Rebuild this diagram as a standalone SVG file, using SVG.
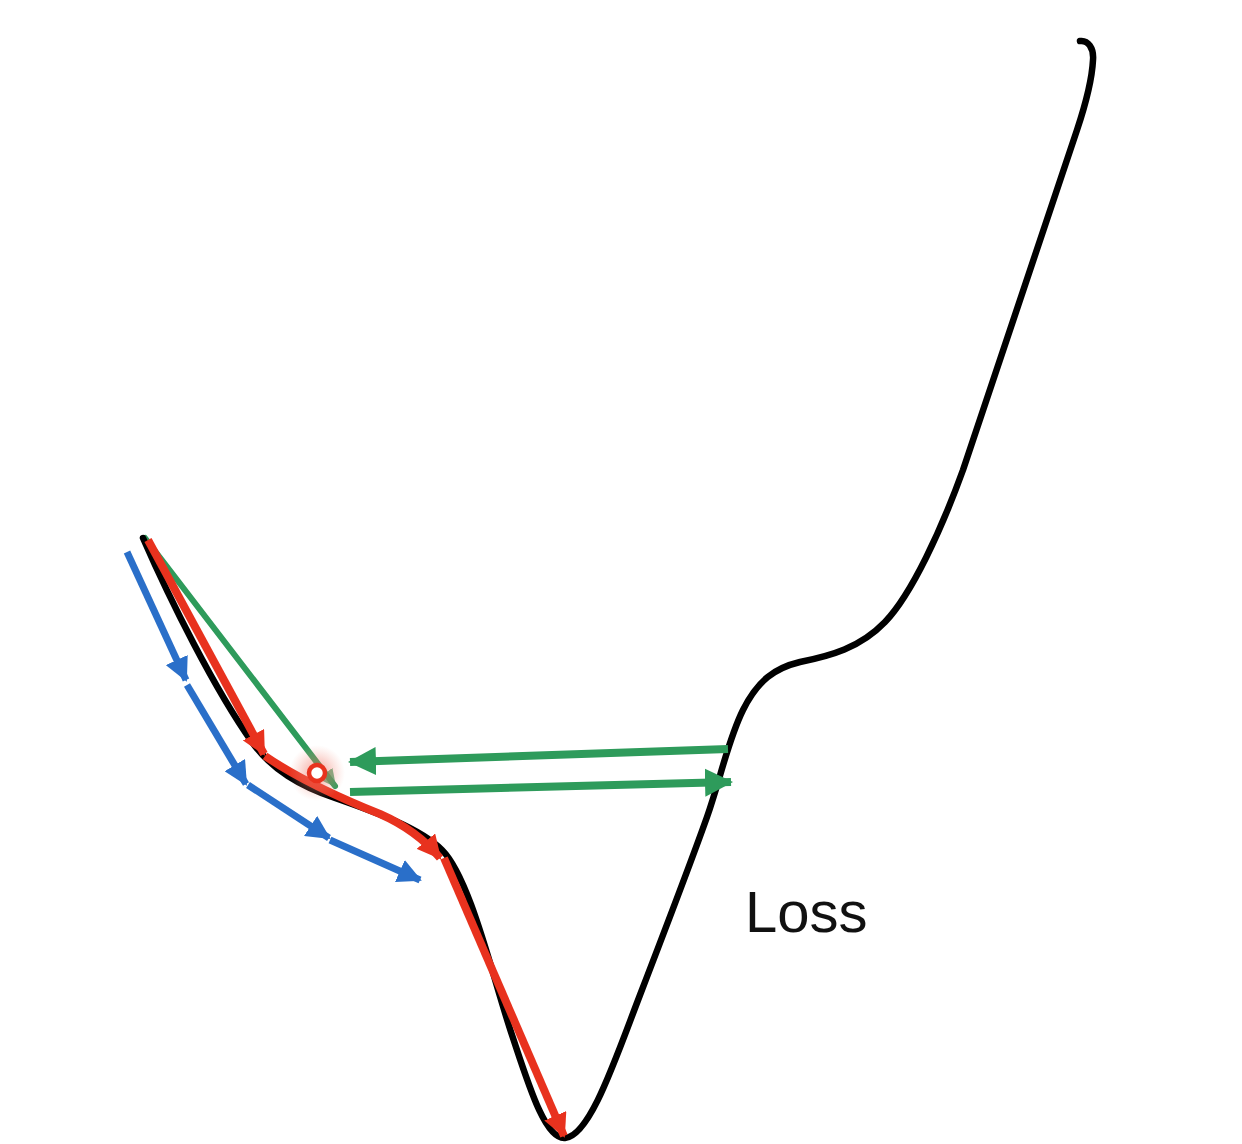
<svg xmlns="http://www.w3.org/2000/svg" width="1242" height="1144" viewBox="0 0 1242 1144">
  <style>
    .curve { fill: none; stroke: #000; stroke-width: 6.5; stroke-linecap: round; stroke-linejoin: round; }
    .red { fill: none; stroke: #e8321e; stroke-width: 8; stroke-linecap: butt; }
    .blue { fill: none; stroke: #2a6fc9; stroke-width: 7; stroke-linecap: butt; }
    .green { fill: none; stroke: #2e9b5b; stroke-width: 8; stroke-linecap: butt; }
    .greenthin { fill: none; stroke: #2e9b5b; stroke-width: 6; stroke-linecap: round; }
    .label { font-family: "Liberation Sans", Arial, sans-serif; font-size: 58px; fill: #111; }
  </style>
  <defs>
    <marker id="ahRed" markerUnits="userSpaceOnUse" markerWidth="26" markerHeight="24" refX="22" refY="12" orient="auto">
      <path d="M0,0 L24,12 L0,24 Z" fill="#e8321e"/>
    </marker>
    <marker id="ahBlue" markerUnits="userSpaceOnUse" markerWidth="26" markerHeight="24" refX="22" refY="12" orient="auto">
      <path d="M0,0 L24,12 L0,24 Z" fill="#2a6fc9"/>
    </marker>
    <marker id="ahGreen" markerUnits="userSpaceOnUse" markerWidth="30" markerHeight="30" refX="26" refY="15" orient="auto">
      <path d="M0,1 L28,15 L0,29 Z" fill="#2e9b5b"/>
    </marker>
    <marker id="ahGreenSmall" markerUnits="userSpaceOnUse" markerWidth="20" markerHeight="18" refX="16" refY="9" orient="auto">
      <path d="M0,0 L18,9 L0,18 Z" fill="#2e9b5b" fill-opacity="0.75"/>
    </marker>
    <radialGradient id="glow" cx="0.5" cy="0.5" r="0.5">
      <stop offset="0" stop-color="#f05a4a" stop-opacity="0.6"/>
      <stop offset="0.55" stop-color="#f08070" stop-opacity="0.3"/>
      <stop offset="1" stop-color="#f5a090" stop-opacity="0"/>
    </radialGradient>
  </defs>
  <rect width="1242" height="1144" fill="#fff"/>

  <g id="connectors">
    <path id="green-diag" class="greenthin" d="M145,538 L335,786" marker-end="url(#ahGreenSmall)"/>
  </g>

  <g id="loss-curve">
    <path class="curve" d="M143,538 C170,600 215,690 252,742 C272,770 300,786 335,798 C375,812 420,828 442,850 C470,878 492,975 512,1035 C528,1083 545,1140 565,1138 C590,1136 615,1060 640,995 C665,930 690,865 707,817 C721,777 728,740 743,710 C758,680 775,668 800,662 C830,656 860,648 885,622 C912,594 942,528 963,470 L1077,130 C1083,112 1092,80 1093,60 C1094,48 1088,40 1080,41"/>
  </g>

  <g id="blue-steps">
    <path class="blue" d="M127,552 L186,680" marker-end="url(#ahBlue)"/>
    <path class="blue" d="M187,685 L246,784" marker-end="url(#ahBlue)"/>
    <path class="blue" d="M248,785 L329,838" marker-end="url(#ahBlue)"/>
    <path class="blue" d="M330,840 L420,880" marker-end="url(#ahBlue)"/>
  </g>

  <g id="red-steps">
    <path class="red" d="M148,540 L264,754" marker-end="url(#ahRed)"/>
    <path class="red" d="M265,756 C300,780 340,798 380,814 C405,825 425,840 440,858" marker-end="url(#ahRed)"/>
    <path class="red" d="M444,858 L564,1136" marker-end="url(#ahRed)"/>
  </g>

  <g id="point">
    <circle cx="317" cy="773" r="28" fill="url(#glow)"/>
    <circle cx="317" cy="773" r="8" fill="#fff" stroke="#e8321e" stroke-width="4.5"/>
  </g>

  <g id="green-arrows">
    <path class="green" d="M728,749 L350,762" marker-end="url(#ahGreen)"/>
    <path class="green" d="M350,792 L731,782" marker-end="url(#ahGreen)"/>
  </g>

  <g id="label">
    <text class="label" x="745" y="932">Loss</text>
  </g>
</svg>
